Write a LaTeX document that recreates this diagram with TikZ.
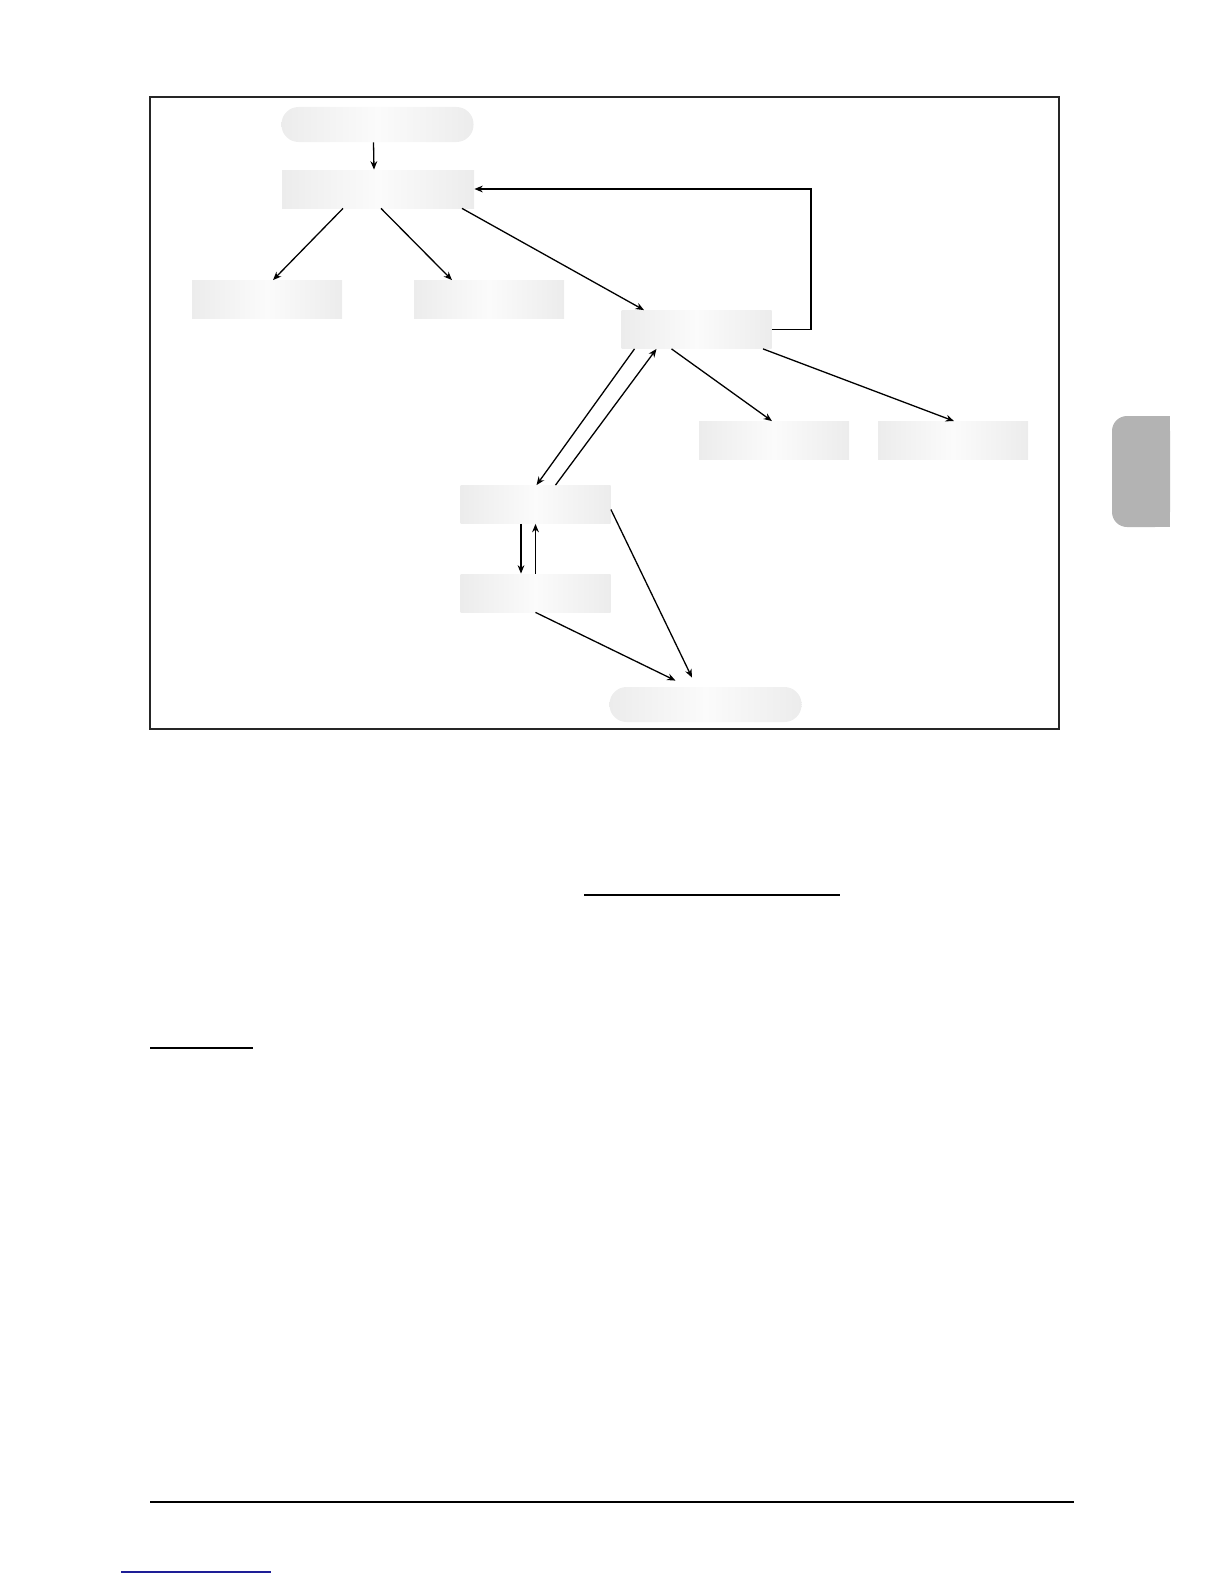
\documentclass[tikz,border=0pt]{standalone}
\usepackage{amsmath}
\usepackage{amssymb}
\usetikzlibrary{arrows.meta,calc}
\definecolor{boxedge}{RGB}{236,236,236}
\definecolor{boxmid}{RGB}{251,251,251}
\definecolor{tabgray}{RGB}{179,179,179}
\definecolor{linkblue}{RGB}{30,30,150}

\begin{document}
\begin{tikzpicture}[x=0.5pt, y=-0.5pt,
  box/.style={rectangle, inner sep=0pt, left color=boxedge, right color=boxedge, middle color=boxmid, minimum width=75pt, minimum height=19pt},
  pill/.style={box, rounded corners=8.5pt, minimum width=96pt, minimum height=17.5pt},
  arr/.style={line width=0.65pt, -{Stealth[length=4.2pt, width=3.4pt]}}]
  \useasboundingbox (0,0) rectangle (1224,1584);
  \draw[line width=1pt, black!85] (150,97) rectangle (1059,729);

  \node[pill] (A) at (377.5,124.5) {};
  \node[box, minimum width=96pt] (B) at (378,189) {};
  \node[box] (C) at (267,299.5) {};
  \node[box] (D) at (489,299.5) {};
  \node[box] (E) at (696.5,329.5) {};

  \node[box] (F) at (774,440.5) {};
  \node[box] (G) at (953,440.5) {};
  \node[box] (H) at (535.5,504.5) {};
  \node[box] (I) at (535.5,593) {};
  \node[pill] (J) at (705.5,704.5) {};

  \draw[arr] ($(A.south)+(-4,0)$) -- ($(B.north)+(-4,0)$);
  \draw[arr] ($(B.south)+(-35,0)$) -- ($(C.north)+(6,0)$);
  \draw[arr] ($(B.south)+(3,0)$) -- ($(D.north)+(-37,0)$);
  \draw[arr] ($(B.south)+(84,0)$) -- ($(E.north)+(-52.5,0)$);
  \draw[arr] (E.east) -- ++(39,0) |- (B.east);

  \draw[arr] ($(E.south)+(-62,0)$) -- ($(H.north)+(1,0)$);
  \draw[arr] ($(H.north)+(20,0)$) -- ($(E.south)+(-40,0)$);
  \draw[arr] ($(E.south)+(-25,0)$) -- ($(F.north)+(-2,0)$);
  \draw[arr] ($(E.south)+(66.5,0)$) -- ($(G.north)+(1,0)$);

  \draw[arr] ($(H.south)+(-14.5,0)$) -- ($(I.north)+(-14.5,0)$);
  \draw[arr] (I.north) -- (H.south);
  \draw[arr] ($(H.east)+(0,5)$) -- ($(J.north)+(-13.5,-9)$);
  \draw[arr] (I.south) -- ($(J.north)+(-30,-6)$);

  \fill[tabgray, rounded corners=7.5pt] (1112,416) rectangle (1170,527);
  \fill[tabgray] (1140,416) rectangle (1170,527);

  \draw[line width=1.25pt] (584,895) -- (840,895);
  \draw[line width=0.75pt] (150,1048) -- (253,1048);
  \draw[line width=0.7pt] (150,1502) -- (1074,1502);
  \draw[linkblue, line width=0.6pt] (121,1572) -- (271,1572);
\end{tikzpicture}
\end{document}
